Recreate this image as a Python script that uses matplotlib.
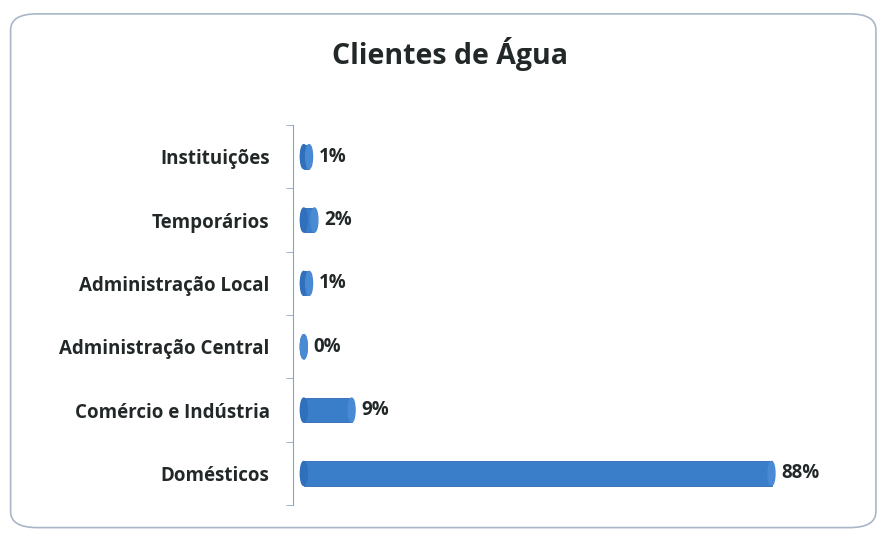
import matplotlib.pyplot as plt
from matplotlib.patches import FancyBboxPatch, Ellipse
import numpy as np

categories = ["Domésticos", "Comércio e Indústria", "Administração Central",
              "Administração Local", "Temporários", "Instituições"]
values = [88, 9, 0, 1, 2, 1]
labels = ["88%", "9%", "0%", "1%", "2%", "1%"]

plt.rcParams['font.family'] = ['Open Sans', 'DejaVu Sans']

bar_color = "#3a7dc9"
text_color = "#222828"


def main():
    fig = plt.figure(figsize=(8.83, 5.34), dpi=100)

    # rounded chart border
    border = FancyBboxPatch((0.012, 0.012), 0.98, 0.962,
                            boxstyle="round,pad=0,rounding_size=0.03",
                            transform=fig.transFigure, fill=False,
                            edgecolor="#aab6c8", linewidth=1.2)
    fig.patches.append(border)

    ax = fig.add_axes([0.332, 0.054, 0.62, 0.712])
    y = np.arange(len(categories))
    start = 2.0
    ax.barh(y, values, height=0.38, left=start, color=bar_color,
            edgecolor="#2d69b0", linewidth=0.6)

    # cylinder caps so that small values still show
    for yi, v in zip(y, values):
        ax.add_patch(Ellipse((start, yi), 1.3, 0.38, color="#2f6fbb",
                             zorder=3))
        ax.add_patch(Ellipse((start + v, yi), 1.3, 0.38, color="#4a8ad4",
                             zorder=3))

    for yi, v, lab in zip(y, values, labels):
        ax.text(start + v + 1.8, yi, lab, va="center", ha="left",
                fontsize=13.5, fontweight="bold", color=text_color)

    ax.set_xlim(0, 103)
    ax.set_ylim(-0.5, len(categories) - 0.5)
    ax.set_yticks(y)
    ax.set_yticklabels(categories, fontsize=13.5, fontweight="bold",
                       color=text_color)
    ax.set_yticks(np.arange(-0.5, len(categories), 1), minor=True)
    ax.tick_params(axis="y", which="major", length=0, pad=17)
    ax.tick_params(axis="y", which="minor", length=5, direction="out",
                   color="#8fa3bf")
    ax.set_xticks([])
    for side in ["top", "right", "bottom"]:
        ax.spines[side].set_visible(False)
    ax.spines["left"].set_color("#8fa3bf")

    fig.text(0.51, 0.898, "Clientes de Água", ha="center", va="center",
             fontsize=20.5, fontweight="bold", color=text_color)

    fig.savefig("out.png", dpi=100)


if __name__ == "__main__":
    main()
